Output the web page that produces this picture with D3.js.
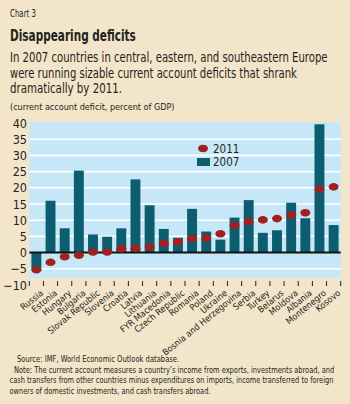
<!DOCTYPE html>
<html>
<head>
<meta charset="utf-8">
<script src="https://cdn.jsdelivr.net/npm/d3@7"></script>
<style>
  html, body { margin: 0; padding: 0; background: #f3e5c9; }
  svg { display: block; }
  text { font-family: "Liberation Sans Narrow", "DejaVu Sans Condensed", "Liberation Sans", sans-serif; fill: #231f20; }
</style>
</head>
<body>
<svg id="chart"></svg>
<script>
// data
const countries = ["Russia", "Estonia", "Hungary", "Bulgaria", "Slovak Republic", "Slovenia", "Croatia",
  "Latvia", "Lithuania", "FYR Macedonia", "Czech Republic", "Romania", "Poland", "Ukraine",
  "Bosnia and Herzegovina", "Serbia", "Turkey", "Belarus", "Moldova", "Albania", "Montenegro", "Kosovo"];
const deficit2007 = [-5.6, 16.0, 7.5, 25.3, 5.6, 4.9, 7.5, 22.6, 14.6, 7.3, 4.6, 13.5, 6.5, 4.0,
  10.8, 16.2, 6.1, 6.9, 15.4, 10.6, 39.6, 8.5];
const deficit2011 = [-5.3, -3.0, -1.3, -0.8, 0.2, 0.2, 1.2, 1.3, 1.7, 2.9, 3.3, 4.3, 4.5, 5.8,
  8.4, 9.6, 10.1, 10.5, 11.6, 12.3, 19.6, 20.3];
const yTicks = [-10, -5, 0, 5, 10, 15, 20, 25, 30, 35, 40];
const seriesNames = ["2011", "2007"];

const W = 350, H = 404;
const barColor = "#0b5d6f";
const dotColor = "#a2211f";

const svg = d3.select("#chart").attr("width", W).attr("height", H);

svg.append("rect").attr("width", W).attr("height", H).attr("fill", "#f3e5c9");

// condensed text: keep the glyph height, squeeze horizontally to the original width
function addText(x0, y0, size, str, width, bold) {
  const t = svg.append("text").attr("x", 0).attr("y", 0).attr("font-size", size).text(str);
  if (bold) t.attr("font-weight", "bold");
  const w = t.node().getComputedTextLength();
  const k = width ? Math.min(1, width / w) : 1;
  t.attr("transform", `translate(${x0},${y0}) scale(${k.toFixed(3)},1)`);
  return t;
}
addText(10, 17, 10.5, "Chart 3", 26);
addText(10, 41, 16, "Disappearing deficits", 126, true);
const sub = ["In 2007 countries in central, eastern, and southeastern Europe",
  "were running sizable current account deficits that shrank",
  "dramatically by 2011."];
const subW = [318, 287, 112];
sub.forEach(function (s, i) { addText(10, 62 + i * 15.5, 13.5, s, subW[i]); });
addText(10, 110, 9, "(current account deficit, percent of GDP)", 167);

// scales
const x = d3.scaleBand().domain(countries).range([29.3, 340.7]).paddingInner(0.3).paddingOuter(0.15);
const y = d3.scaleLinear().domain([-10, 40]).range([285, 123]);

// plot background
svg.append("rect")
  .attr("x", 29.3).attr("y", y(40) - 1)
  .attr("width", 340.7 - 29.3).attr("height", y(-7.8) - y(40) + 1)
  .attr("fill", "#c6e7f7");

// gridlines
svg.append("g").selectAll("line")
  .data(yTicks.filter(function (d) { return d > -10 && d < 40 && d !== 0; }))
  .enter().append("line")
  .attr("x1", 29.3).attr("x2", 340.7)
  .attr("y1", function (d) { return y(d); }).attr("y2", function (d) { return y(d); })
  .attr("stroke", "#ffffff").attr("stroke-width", 1.6);

// y axis
const yAxis = svg.append("g")
  .attr("transform", "translate(27,0)")
  .call(d3.axisLeft(y).tickValues(yTicks).tickSize(0).tickPadding(0)
    .tickFormat(function (d) { return d < 0 ? "\u2212" + Math.abs(d) : d; }));
yAxis.select(".domain").remove();
yAxis.selectAll("text").attr("font-size", 12.5).attr("font-family", null).attr("fill", "#231f20");

// bars 2007
svg.append("g").selectAll("rect")
  .data(countries)
  .enter().append("rect")
  .attr("x", function (d) { return x(d); })
  .attr("width", x.bandwidth())
  .attr("y", function (d, i) { return y(Math.max(0, deficit2007[i])); })
  .attr("height", function (d, i) { return Math.abs(y(deficit2007[i]) - y(0)); })
  .attr("fill", barColor);

// zero line
svg.append("line")
  .attr("x1", 29.3).attr("x2", 340.7)
  .attr("y1", y(0)).attr("y2", y(0))
  .attr("stroke", "#111").attr("stroke-width", 2);

// dots 2011
svg.append("g").selectAll("ellipse")
  .data(countries)
  .enter().append("ellipse")
  .attr("cx", function (d) { return x(d) + x.bandwidth() / 2; })
  .attr("cy", function (d, i) { return y(deficit2011[i]); })
  .attr("rx", 5).attr("ry", 3.8)
  .attr("fill", dotColor);

// x axis ticks at band boundaries
const step = x.step();
const bounds = countries.map(function (d) { return x(d) - step * 0.15; });
bounds.push(x(countries[countries.length - 1]) + x.bandwidth() + step * 0.15);
svg.append("g").selectAll("line")
  .data(bounds)
  .enter().append("line")
  .attr("x1", function (d) { return d; }).attr("x2", function (d) { return d; })
  .attr("y1", 281).attr("y2", 286)
  .attr("stroke", "#231f20").attr("stroke-width", 1);

// x labels
const xAxis = svg.append("g")
  .attr("transform", "translate(0,287)")
  .call(d3.axisBottom(x).tickSize(0).tickPadding(0));
xAxis.select(".domain").remove();
xAxis.selectAll("text")
  .attr("font-size", 9).attr("font-family", null).attr("fill", "#231f20")
  .attr("text-anchor", "end")
  .attr("dy", "0.6em")
  .attr("transform", "translate(4,3) rotate(-39)");

// legend
const legend = svg.append("g");
legend.append("ellipse").attr("cx", 203).attr("cy", 148.5).attr("rx", 5).attr("ry", 3.8).attr("fill", dotColor);
legend.append("rect").attr("x", 197).attr("y", 158).attr("width", 13).attr("height", 8).attr("fill", barColor);
legend.selectAll("text")
  .data(seriesNames)
  .enter().append("text")
  .attr("x", 213)
  .attr("y", function (d, i) { return 152.5 + i * 13.5; })
  .attr("font-size", 11.5)
  .text(function (d) { return d; });

// footer
addText(17, 362, 8.6, "Source: IMF, World Economic Outlook database.", 162);
const notes = ["Note: The current account measures a country\u2019s income from exports, investments abroad, and",
  "cash transfers from other countries minus expenditures on imports, income transferred to foreign",
  "owners of domestic investments, and cash transfers abroad."];
const noteX = [14, 9.5, 9.5];
const noteW = [321, 324, 201];
notes.forEach(function (s, i) { addText(noteX[i], 372.5 + i * 10.7, 8.6, s, noteW[i]); });
</script>
</body>
</html>
